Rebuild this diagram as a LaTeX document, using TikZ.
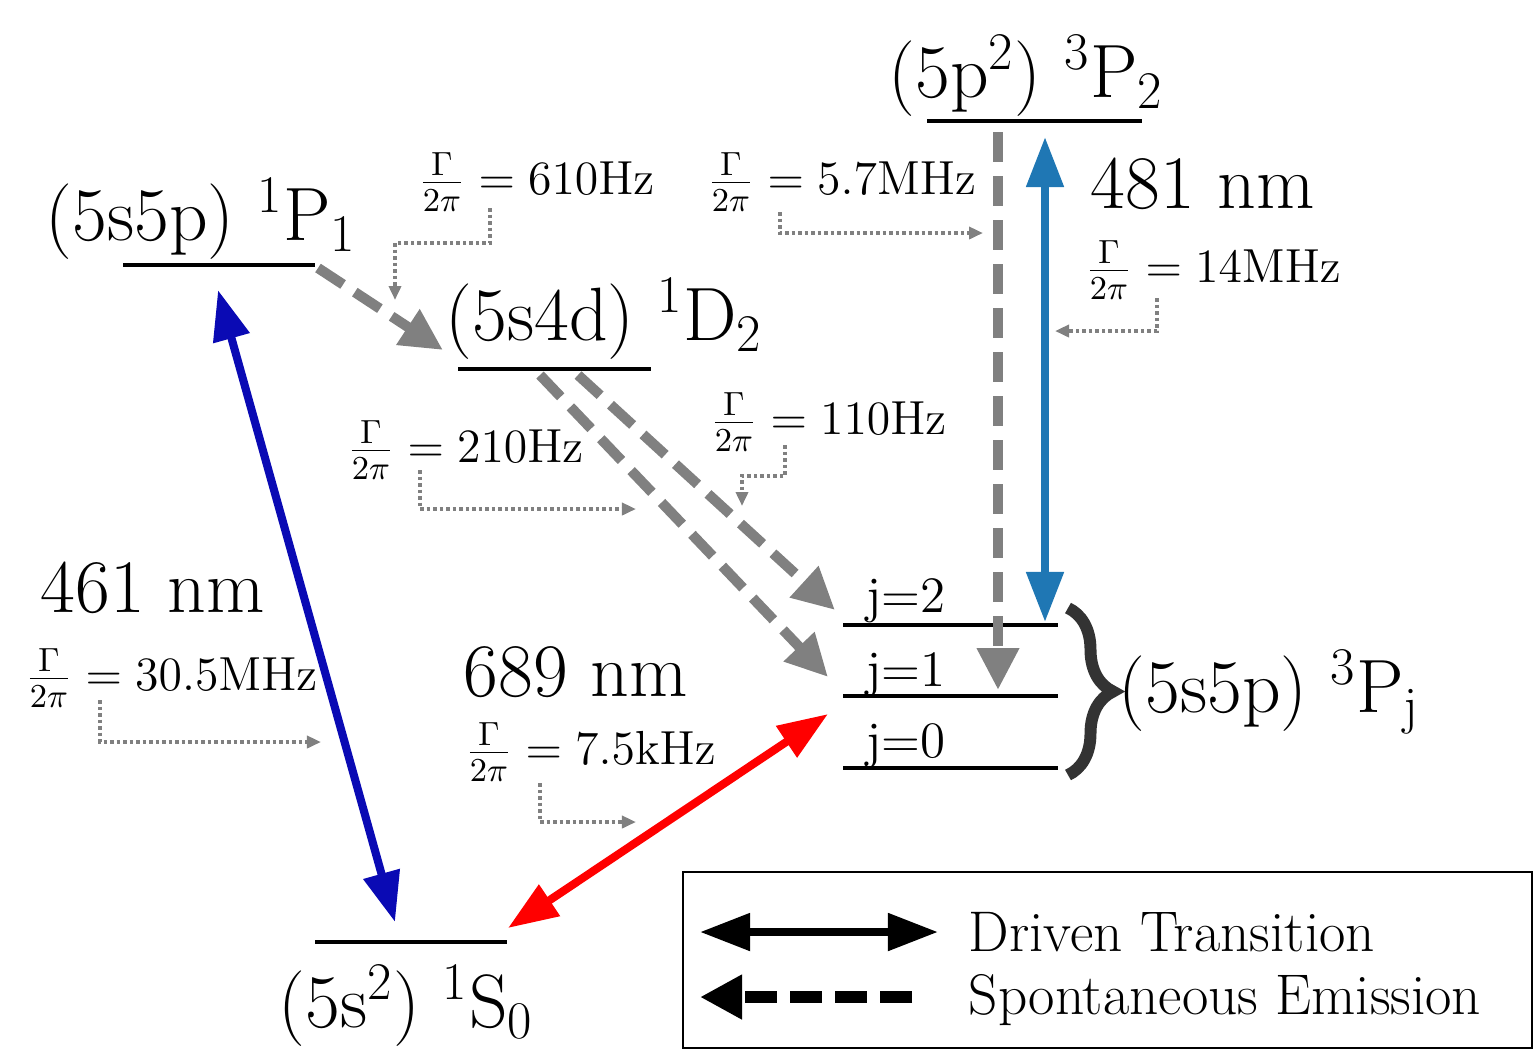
\documentclass[tikz,border=0pt]{standalone}
\usepackage{fix-cm}
\usetikzlibrary{arrows.meta}
\usetikzlibrary{decorations.pathreplacing}
\definecolor{darkblue}{RGB}{10,10,180}
\definecolor{lightblue}{RGB}{31,119,180}
\definecolor{emgray}{RGB}{128,128,128}
\definecolor{bracegray}{RGB}{51,51,51}
\tikzset{
	level/.style={line width=1.2pt},
	driven/.style={line width=2.3pt, {Triangle[length=0.5cm,width=0.36cm]}-{Triangle[length=0.5cm,width=0.36cm]}},
	spont/.style={emgray, line width=2.9pt, dash pattern=on 0.3cm off 0.14cm, -{Triangle[length=0.42cm,width=0.4cm]}},
	leader/.style={emgray, line width=1.05pt, dash pattern=on 1.05pt off 0.8pt, -{Triangle[length=0.14cm,width=0.12cm]}},
	lbl/.style={inner sep=0, anchor=base west, font=\fontsize{21.5}{26}\selectfont},
	jlbl/.style={inner sep=0, anchor=base west, font=\fontsize{14.5}{17}\selectfont},
	rate/.style={inner sep=0, anchor=west, font=\fontsize{13.6}{16}\selectfont},
	legtext/.style={inner sep=0, anchor=west, font=\fontsize{16.3}{19}\selectfont}
}
\begin{document}
\begin{tikzpicture}[x=0.01cm, y=-0.01cm]
	\useasboundingbox (0,0) rectangle (1536,1056);
	\foreach \xa/\xb/\y in {123/315/265, 458/651/369, 927/1142/121, 315/507/942, 843/1058/625, 843/1058/696, 843/1058/768}
		\draw[level] (\xa,\y) -- (\xb,\y);
	\node[lbl](P1) at (45,240) {(5s5p) \textsuperscript{1}P\textsubscript{1}};
	\node[lbl](D2) at (445,340) {(5s4d) \textsuperscript{1}D\textsubscript{2}};
	\node[lbl](P2) at (888,97) {(5p\textsuperscript{2}) \textsuperscript{3}P\textsubscript{2}};
	\node[lbl](S0) at (278,1027) {(5s\textsuperscript{2}) \textsuperscript{1}S\textsubscript{0}};
	\node[lbl](Pj) at (1118,712) {(5s5p) \textsuperscript{3}P\textsubscript{j}};
	\node[lbl](w481) at (1090,208) {481\hspace{0.3em}nm};
	\node[lbl](w461) at (40,612) {461\hspace{0.3em}nm};
	\node[lbl](w689) at (463,696) {689\hspace{0.3em}nm};
	\node[jlbl](j2) at (866,612) {j=2};
	\node[jlbl](j1) at (866,686) {j=1};
	\node[jlbl](j0) at (866,757) {j=0};
	\draw[bracegray, line width=3.4pt, decorate, decoration={brace, amplitude=0.45cm}] (1068,608) -- (1068,775);
	\node[rate](r610) at (418,182) {$\frac{\Gamma}{2\pi} = 610\mathrm{Hz}$};
	\node[rate](r57) at (707,182) {$\frac{\Gamma}{2\pi} = 5.7\mathrm{MHz}$};
	\node[rate](r14) at (1085,270) {$\frac{\Gamma}{2\pi} = 14\mathrm{MHz}$};
	\node[rate](r110) at (710,422) {$\frac{\Gamma}{2\pi} = 110\mathrm{Hz}$};
	\node[rate](r210) at (347,450) {$\frac{\Gamma}{2\pi} = 210\mathrm{Hz}$};
	\node[rate](r305) at (25,678) {$\frac{\Gamma}{2\pi} = 30.5\mathrm{MHz}$};
	\node[rate](r75) at (465,752) {$\frac{\Gamma}{2\pi} = 7.5\mathrm{kHz}$};
	\coordinate (bP1) at (218,290);
	\coordinate (bS0) at (395,922);
	\coordinate (rS0) at (508,928);
	\coordinate (rPj) at (828,714);
	\coordinate (cP2) at (1045,137);
	\coordinate (cPj) at (1045,622);
	\coordinate (eP1) at (318,268);
	\coordinate (eD2) at (443,350);
	\coordinate (eDa) at (540,375);
	\coordinate (eJ1) at (828,677);
	\coordinate (eDb) at (578,375);
	\coordinate (eJ2) at (835,610);
	\coordinate (eP2) at (998,132);
	\coordinate (eJv) at (998,690);
	\draw[driven, darkblue] (bP1) -- (bS0);
	\draw[driven, red] (rS0) -- (rPj);
	\draw[driven, lightblue] (cP2) -- (cPj);
	\draw[spont] (eP1) -- (eD2);
	\draw[spont] (eDa) -- (eJ1);
	\draw[spont] (eDb) -- (eJ2);
	\draw[spont] (eP2) -- (eJv);
	\coordinate (l610) at (490,208);
	\coordinate (l57) at (780,212);
	\coordinate (l14) at (1157,298);
	\coordinate (l110) at (785,445);
	\coordinate (l210) at (420,470);
	\coordinate (l305) at (100,700);
	\coordinate (l75) at (540,783);
	\draw[leader] (l610) -- ++(0,35) -| (395,300);
	\draw[leader] (l57) |- (983,233);
	\draw[leader] (l14) |- (1055,331);
	\draw[leader] (l110) -- ++(0,31) -| (742,506);
	\draw[leader] (l210) |- (636,509);
	\draw[leader] (l305) |- (321,742);
	\draw[leader] (l75) |- (636,822);
	\draw[line width=0.6pt] (683,872) rectangle (1532,1048);
	\coordinate (dA) at (700,932);
	\coordinate (dB) at (938,932);
	\coordinate (sA) at (912,997);
	\coordinate (sB) at (700,997);
	\draw[driven, black] (dA) -- (dB);
	\draw[spont, black, line width=3.4pt, dash pattern=on 0.32cm off 0.13cm, -{Triangle[length=0.42cm,width=0.42cm]}] (sA) -- (sB);
	\node[legtext](tD) at (968,932) {Driven Transition};
	\node[legtext](tS) at (968,1000) {Spontaneous Emission};
\end{tikzpicture}
\end{document}
